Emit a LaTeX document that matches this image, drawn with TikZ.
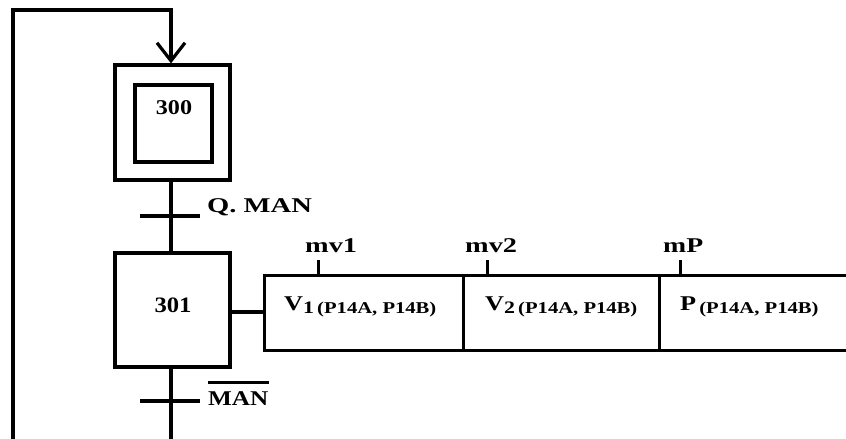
\documentclass[tikz,border=0pt]{standalone}
\usepackage{fontspec}
\setmainfont{Liberation Serif}
\usetikzlibrary{arrows.meta}
\tikzset{
  ln/.style={line width=3.2pt},
  stepbox/.style={draw, line width=3.2pt, minimum width=115pt, minimum height=114pt, inner sep=0pt},
  actbox/.style={draw, line width=3.2pt, minimum height=75pt, inner sep=0pt, anchor=north west},
  lbl/.style={anchor=base west, inner sep=0pt, font=\bfseries\fontsize{21}{21}\selectfont},
}
\newcommand{\wide}[2]{\scalebox{#1}[1]{#2}}
\newcommand{\actlabel}[2]{\wide{1.25}{#1\raisebox{-3pt}{\fontsize{17.5}{17.5}\selectfont #2}\hspace{2.5pt}\raisebox{-3pt}{\fontsize{16.5}{16.5}\selectfont (P14A, P14B)}}}
\begin{document}
\begin{tikzpicture}[x=1pt,y=-1pt]
\useasboundingbox (0,0) rectangle (846,439);
% step 300 (initial)
\node[stepbox, minimum height=115pt] (s300) at (172.5,122.5) {};
\node[draw, line width=3.2pt, minimum width=77pt, minimum height=77pt, inner sep=0pt] (s300i) at (173.5,123.5) {};
\node[lbl, anchor=base] (t300) at (174,114) {\wide{1.15}{300}};
% step 301
\node[stepbox] (s301) at (172.5,310) {};
\node[lbl, anchor=base, font=\bfseries\fontsize{22}{22}\selectfont] (t301) at (173,312) {\wide{1.12}{301}};
% loop
\coordinate (bot) at (13,439);
\coordinate (tl) at (13,10);
\coordinate (tr) at (171,10);
\draw[ln, -{Straight Barb[length=18pt,width=28pt,line width=3.2pt]}] (bot) -- (tl) -- (tr) -- (s300.north -| tr);
% transitions
\coordinate (tq) at (171,216);
\coordinate (tm) at (171,401);
\coordinate (end) at (171,439);
\draw[ln] (s300.south -| tq) -- (s301.north -| tq);
\draw[ln] (s301.south -| tm) -- (end);
\draw[ln] (140,216) -- (200,216);
\draw[ln] (140,401) -- (200,401);
\node[lbl] (qman) at (207,212) {\wide{1.36}{Q. MAN}};
\node[lbl] (man) at (208,405) {\wide{1.2}{MAN}};
\draw[line width=3pt] (man.base west |- 0,382) -- (man.base east |- 0,382);
% actions
\node[actbox, minimum width=199pt] (a1) at (263,274) {};
\node[actbox, minimum width=196pt] (a2) at (462,274) {};
\node[actbox, minimum width=200pt] (a3) at (658,274) {};
\draw[ln] (s301.east |- 0,312) -- (a1.west |- 0,312);
\node[lbl] (v1) at (284,310) {\actlabel{V}{1}};
\node[lbl] (v2) at (485,310) {\actlabel{V}{2}};
\node[lbl] (p) at (680,310) {\actlabel{P}{}};
% tick marks and labels
\draw[line width=3pt] (318,260) -- (318,274);
\draw[line width=3pt] (487,260) -- (487,274);
\draw[line width=3pt] (680,260) -- (680,274);
\node[lbl] (mv1) at (305,252) {\wide{1.35}{mv1}};
\node[lbl] (mv2) at (465,252) {\wide{1.35}{mv2}};
\node[lbl] (mp) at (663,252) {\wide{1.32}{mP}};
\end{tikzpicture}
\end{document}
